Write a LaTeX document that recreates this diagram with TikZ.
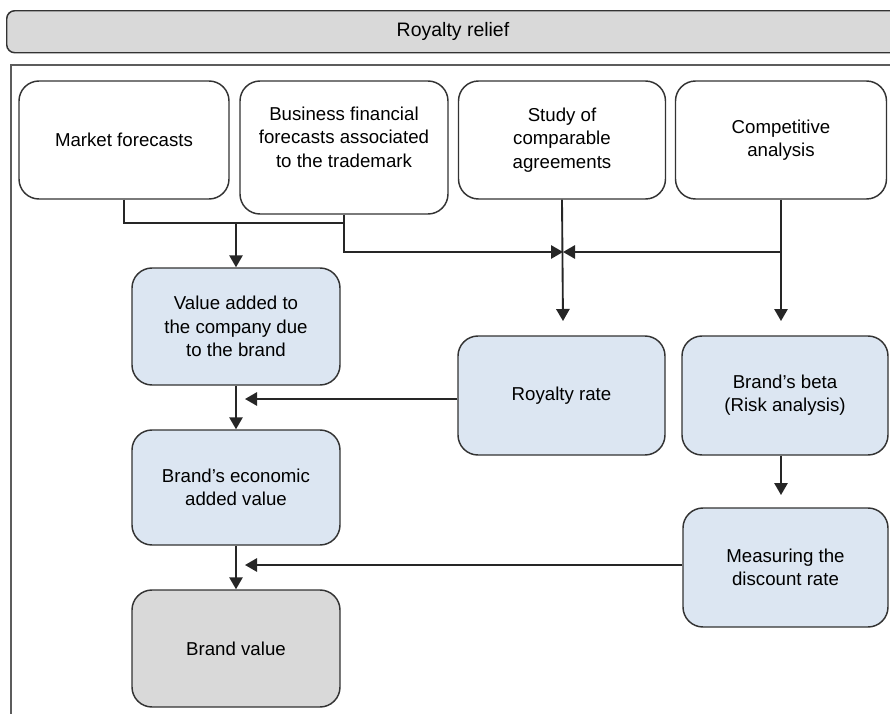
\documentclass[tikz,border=0pt]{standalone}
\usepackage{fontspec}
\setmainfont{Liberation Sans}
\usetikzlibrary{arrows.meta}
\definecolor{boxblue}{HTML}{DCE6F2}
\definecolor{boxgray}{HTML}{D9D9D9}
\definecolor{edgegray}{HTML}{333333}
\tikzset{
  px/.style={x=0.75pt,y=-0.75pt},
  basebox/.style={draw=edgegray,line width=1.1pt,rounded corners=15pt,align=center,
    font=\fontsize{14}{17.5}\selectfont,inner sep=2pt},
  whitebox/.style={basebox,fill=white},
  bluebox/.style={basebox,fill=boxblue},
  graybox/.style={basebox,fill=boxgray},
  conn/.style={draw=black!85,line width=1.4pt},
  arr/.style={conn,-{Triangle[length=9pt,width=10pt]}},
  bx/.style 2 args={minimum width=#1*0.75pt,minimum height=#2*0.75pt},
}
\begin{document}
\begin{tikzpicture}[px]
\useasboundingbox (0,0) rectangle (890,714);
% title bar
\node[draw=edgegray,line width=1.1pt,fill=boxgray,rounded corners=6pt,
  minimum width=900*0.75pt,minimum height=42*0.75pt,anchor=north west,
  inner sep=0pt] (title) at (6,10) {};
\node[font=\fontsize{14.6}{17}\selectfont] (titletext) at (453,31) {Royalty relief};
% outer frame
\draw[draw=edgegray!80,line width=1pt] (11,730) -- (11,65) -- (910,65);
% top row
\node[whitebox,bx={210}{118}] (mf) at (124,140) {Market forecasts};
\node[whitebox,bx={208}{133}] (bf) at (344,147.5) {};
\node[align=center,font=\fontsize{14}{17.5}\selectfont] (bft) at (344,137)
  {Business financial\\forecasts associated\\to the trademark};
\node[whitebox,bx={207}{118}] (sc) at (562,140) {Study of\\comparable\\agreements};
\node[whitebox,bx={211}{118}] (ca) at (781,140) {Competitive\\analysis};
% middle
\node[bluebox,bx={208}{117}] (va) at (236,326.5) {Value added to\\the company due\\to the brand};
\node[bluebox,bx={207}{119}] (rr) at (561.5,395.5) {Royalty rate};
\node[bluebox,bx={206}{119}] (bb) at (785,395.5) {Brand’s beta\\(Risk analysis)};
\node[bluebox,bx={208}{115}] (ev) at (236,487.5) {Brand’s economic\\added value};
\node[bluebox,bx={205}{119}] (dr) at (785.5,567.5) {Measuring the\\discount rate};
\node[graybox,bx={208}{117}] (bv) at (236,648.5) {Brand value};
% junction coordinates
\coordinate (j1) at (345,223);
\coordinate (meet) at (563,252);
\coordinate (sctip) at (563,321);
\coordinate (catip) at (781,321);
\coordinate (rrtip) at (245,399);
\coordinate (drtip) at (245,565);
\coordinate (bbtip) at (781,495);
% connectors
\draw[conn] (mf.south) |- (j1);
\draw[arr] (va.north |- j1) -- (va.north);
\draw[arr] (bf.south) |- (meet);
\draw[arr] (ca.south |- meet) -- (meet);
\draw[arr] (sc.south) -- (sctip);
\draw[arr] (ca.south) -- (catip);
\draw[arr] (rr.west |- rrtip) -- (rrtip);
\draw[arr] (va.south) -- (ev.north);
\draw[arr] (bb.south -| bbtip) -- (bbtip);
\draw[arr] (dr.west |- drtip) -- (drtip);
\draw[arr] (ev.south) -- (bv.north);
\end{tikzpicture}
\end{document}
